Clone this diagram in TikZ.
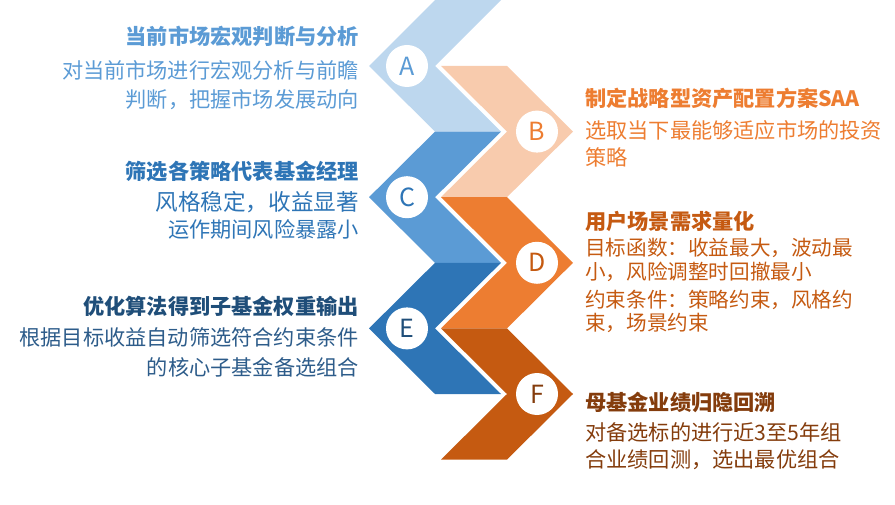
\documentclass[tikz,border=0pt]{standalone}
\usepackage{fontspec}
\setmainfont{Noto Sans CJK SC}

\definecolor{bandA}{HTML}{BDD7EE}
\definecolor{bandB}{HTML}{F8CBAD}
\definecolor{bandC}{HTML}{5B9BD5}
\definecolor{bandD}{HTML}{ED7D31}
\definecolor{bandE}{HTML}{2E75B6}
\definecolor{bandF}{HTML}{C55A11}
\definecolor{inkA}{HTML}{5B9BD5}
\definecolor{inkB}{HTML}{ED7D31}
\definecolor{inkC}{HTML}{2E75B6}
\definecolor{inkD}{HTML}{C55A11}
\definecolor{inkE}{HTML}{1F4E79}
\definecolor{inkEb}{HTML}{2D5C8A}
\definecolor{inkF}{HTML}{843C0C}

\begin{document}
\begin{tikzpicture}[x=1pt, y=-1pt,
    badge/.style={circle, fill=white, draw=none, minimum size=42pt, inner sep=0pt, font=\fontsize{25}{25}\selectfont},
    ttl/.style={inner sep=0pt, font=\fontsize{21.2}{21.2}\selectfont\bfseries},
    txt/.style={inner sep=0pt, font=\fontsize{21.2}{21.2}\selectfont}]
        \useasboundingbox (0,0) rectangle (895,505);

        % Left chevrons (A, C, E)
        \fill[bandA] (435,0) -- (501,0) -- (435,66) -- (501,131.6) -- (435,131.6) -- (369,66) -- cycle;
        \fill[bandC] (435,131.6) -- (501,131.6) -- (435,197.2) -- (501,262.8) -- (435,262.8) -- (369,197.2) -- cycle;
        \fill[bandE] (435,262.8) -- (501,262.8) -- (435,328.4) -- (501,394) -- (435,394) -- (369,328.4) -- cycle;

        % Right chevrons (B, D, F)
        \fill[bandB] (441,66) -- (507,66) -- (573,131.6) -- (507,197.2) -- (441,197.2) -- (507,131.6) -- cycle;
        \fill[bandD] (441,197.2) -- (507,197.2) -- (573,262.8) -- (507,328.4) -- (441,328.4) -- (507,262.8) -- cycle;
        \fill[bandF] (441,328.4) -- (507,328.4) -- (573,394) -- (507,459.6) -- (441,459.6) -- (507,394) -- cycle;

        % Letter badges
        \node[badge, text=inkA] (circA) at (407,66) {A};
        \node[badge, text=inkB] (circB) at (537,131.6) {B};
        \node[badge, text=inkC] (circC) at (407,197.2) {C};
        \node[badge, text=inkD] (circD) at (537,262.8) {D};
        \node[badge, text=inkE] (circE) at (407,328.4) {E};
        \node[badge, text=inkF] (circF) at (537,394) {F};

        % Step A
        \node[ttl, text=inkA, anchor=east] (tA) at (359,36) {当前市场宏观判断与分析};
        \node[txt, text=inkA, anchor=east] (bA1) at (359,70) {对当前市场进行宏观分析与前瞻};
        \node[txt, text=inkA, anchor=east] (bA2) at (359,100) {判断，把握市场发展动向};

        % Step B
        \node[ttl, text=inkB, anchor=west] (tB) at (585,98) {制定战略型资产配置方案SAA};
        \node[txt, text=inkB, anchor=west] (bB1) at (585,130) {选取当下最能够适应市场的投资};
        \node[txt, text=inkB, anchor=west] (bB2) at (585,157) {策略};

        % Step C
        \node[ttl, text=inkC, anchor=east] (tC) at (359,171) {筛选各策略代表基金经理};
        \node[txt, text=inkC, anchor=east, font=\fontsize{22.6}{22.6}\selectfont] (bC1) at (359,202) {风格稳定，收益显著};
        \node[txt, text=inkC, anchor=east] (bC2) at (359,229) {运作期间风险暴露小};

        % Step D
        \node[ttl, text=inkD, anchor=west] (tD) at (585,221) {用户场景需求量化};
        \node[txt, text=inkD, anchor=west, font=\fontsize{20.6}{20.6}\selectfont] (bD1) at (585,248) {目标函数：收益最大，波动最};
        \node[txt, text=inkD, anchor=west, font=\fontsize{20.6}{20.6}\selectfont] (bD2) at (585,272) {小，风险调整时回撤最小};
        \node[txt, text=inkD, anchor=west, font=\fontsize{20.6}{20.6}\selectfont] (bD3) at (585,300) {约束条件：策略约束，风格约};
        \node[txt, text=inkD, anchor=west, font=\fontsize{20.6}{20.6}\selectfont] (bD4) at (585,323) {束，场景约束};

        % Step E
        \node[ttl, text=inkE, anchor=east] (tE) at (359,306) {优化算法得到子基金权重输出};
        \node[txt, text=inkEb, anchor=east] (bE1) at (359,337) {根据目标收益自动筛选符合约束条件};
        \node[txt, text=inkEb, anchor=east] (bE2) at (359,367) {的核心子基金备选组合};

        % Step F
        \node[ttl, text=inkF, anchor=west] (tF) at (585,402) {母基金业绩归隐回溯};
        \node[txt, text=inkF, anchor=west] (bF1) at (585,432) {对备选标的进行近3至5年组};
        \node[txt, text=inkF, anchor=west] (bF2) at (585,460) {合业绩回测，选出最优组合};
    \end{tikzpicture}
\end{document}
